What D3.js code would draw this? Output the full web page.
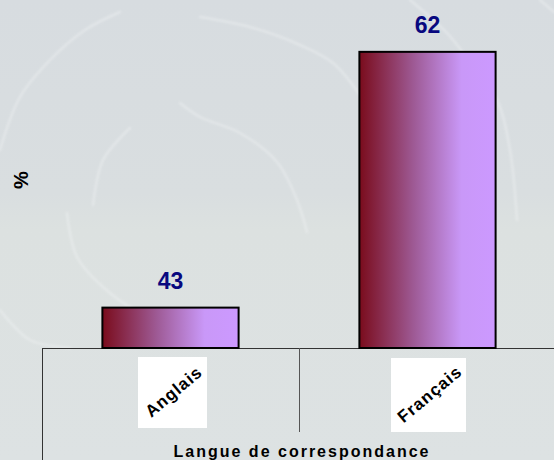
<!DOCTYPE html>
<html>
<head>
<meta charset="utf-8">
<script src="https://cdn.jsdelivr.net/npm/d3@7"></script>
<style>
    body { margin: 0; background: #d9dee0; }
    svg { display: block; }
</style>
</head>
<body>
<svg id="chart" width="554" height="460"></svg>
<script>
// Chart data.
var categories = ["Anglais", "Français"];
var values = [43, 62];
var axisTitle = "Langue de correspondance";
var yTitle = "%";

var svg = d3.select("#chart"),
    width = +svg.attr("width"),
    height = +svg.attr("height");

var left = 42, baseline = 348;

var defs = svg.append("defs");

var grad = defs.append("linearGradient")
    .attr("id", "barGrad")
    .attr("x1", "0%").attr("x2", "100%")
    .attr("y1", "0%").attr("y2", "0%");
grad.append("stop").attr("offset", "0%").attr("stop-color", "#7a0c1c");
grad.append("stop").attr("offset", "40%").attr("stop-color", "#9e5a95");
grad.append("stop").attr("offset", "75%").attr("stop-color", "#c998f8");
grad.append("stop").attr("offset", "100%").attr("stop-color", "#cc99ff");

var bg = defs.append("linearGradient")
    .attr("id", "bgGrad")
    .attr("x1", "0").attr("x2", "0").attr("y1", "0").attr("y2", "1");
bg.append("stop").attr("offset", "0%").attr("stop-color", "#d7dce0");
bg.append("stop").attr("offset", "42%").attr("stop-color", "#d9dee0");
bg.append("stop").attr("offset", "50%").attr("stop-color", "#dce1e0");
bg.append("stop").attr("offset", "100%").attr("stop-color", "#dde2e3");

var blur = defs.append("filter").attr("id", "blur");
blur.append("feGaussianBlur").attr("stdDeviation", 1.3);

// Background
svg.append("rect")
    .attr("width", width).attr("height", height)
    .attr("fill", "url(#bgGrad)");

// Faint swirl decoration (background only)
var swirls = [
    [[0, 150], [20, 97], [50, 60], [85, 30], [120, 12]],
    [[93, 205], [103, 160], [130, 128]],
    [[67, 213], [77, 257], [110, 293], [145, 315], [175, 325]],
    [[180, 103], [200, 117], [240, 133], [277, 162], [297, 200], [307, 232]],
    [[200, 17], [250, 27], [300, 45], [333, 63], [360, 95]],
    [[410, 0], [447, 33], [470, 62], [497, 100], [510, 150], [517, 220]],
    [[0, 310], [30, 340], [70, 348]],
    [[540, 0], [554, 12]]
];
var swirlLine = d3.line().curve(d3.curveCatmullRom);
svg.append("g").selectAll("path")
    .data(swirls)
    .enter().append("path")
    .attr("d", swirlLine)
    .attr("fill", "none")
    .attr("stroke", "#f2f4f5")
    .attr("stroke-width", 2.5)
    .attr("stroke-linecap", "round")
    .attr("opacity", 0.4)
    .attr("filter", "url(#blur)");

var x = d3.scaleBand()
    .domain(categories)
    .range([left, 556])
    .padding(0);

var barWidth = x.bandwidth() * 0.53;

var y = d3.scaleLinear()
    .domain([40, 66])
    .range([baseline, -2]);

// Category table below the baseline
var g = svg.append("g");
g.append("line")
    .attr("x1", left).attr("x2", width)
    .attr("y1", baseline + 0.5).attr("y2", baseline + 0.5)
    .attr("stroke", "#333").attr("stroke-width", 1);
g.append("line")
    .attr("x1", left + 0.5).attr("x2", left + 0.5)
    .attr("y1", baseline).attr("y2", height)
    .attr("stroke", "#333").attr("stroke-width", 1);
g.append("line")
    .attr("x1", x(categories[1]) + 0.5).attr("x2", x(categories[1]) + 0.5)
    .attr("y1", baseline).attr("y2", 432)
    .attr("stroke", "#555").attr("stroke-width", 1);

// Bars
svg.selectAll(".bar")
    .data(values)
    .enter().append("rect")
    .attr("class", "bar")
    .attr("x", function (d, i) { return x(categories[i]) + x.bandwidth() / 2 - barWidth / 2; })
    .attr("y", function (d) { return y(d); })
    .attr("width", barWidth)
    .attr("height", function (d) { return y(40) - y(d); })
    .attr("fill", "url(#barGrad)")
    .attr("stroke", "#000")
    .attr("stroke-width", 2);

// Value labels
svg.selectAll(".val")
    .data(values)
    .enter().append("text")
    .attr("class", "val")
    .attr("x", function (d, i) { return x(categories[i]) + x.bandwidth() / 2; })
    .attr("y", function (d) { return y(d) - 19; })
    .attr("text-anchor", "middle")
    .style("font", "bold 23px Arial, 'Liberation Sans', sans-serif")
    .attr("fill", "#08087f")
    .text(function (d) { return d; });

// Category labels in white boxes, rotated
var boxes = [{w: 69, h: 71, dx: 2, dy: 9}, {w: 75, h: 74, dx: 1, dy: 10}];
var cat = svg.selectAll(".cat")
    .data(categories)
    .enter().append("g")
    .attr("class", "cat")
    .attr("transform", function (d, i) {
        return "translate(" + (x(d) + x.bandwidth() / 2 + boxes[i].dx) + "," + (baseline + boxes[i].dy) + ")";
    });
cat.append("rect")
    .attr("x", function (d, i) { return -boxes[i].w / 2; })
    .attr("width", function (d, i) { return boxes[i].w; })
    .attr("height", function (d, i) { return boxes[i].h; })
    .attr("fill", "#fff");
cat.append("text")
    .attr("transform", function (d, i) { return "translate(1," + (boxes[i].h / 2 - 1) + ") rotate(-40)"; })
    .attr("text-anchor", "middle")
    .attr("dy", "0.35em")
    .style("font", "bold 17px Arial, 'Liberation Sans', sans-serif")
    .style("letter-spacing", "1px")
    .attr("fill", "#000")
    .text(function (d) { return d; });

// Axis titles
svg.append("text")
    .attr("x", 302).attr("y", 457)
    .attr("text-anchor", "middle")
    .style("font", "bold 16px Arial, 'Liberation Sans', sans-serif")
    .style("letter-spacing", "2px")
    .attr("fill", "#000")
    .text(axisTitle);

svg.append("text")
    .attr("transform", "translate(28,180) rotate(-90)")
    .attr("text-anchor", "middle")
    .style("font", "bold 20px Arial, 'Liberation Sans', sans-serif")
    .attr("fill", "#000")
    .text(yTitle);
</script>
</body>
</html>
